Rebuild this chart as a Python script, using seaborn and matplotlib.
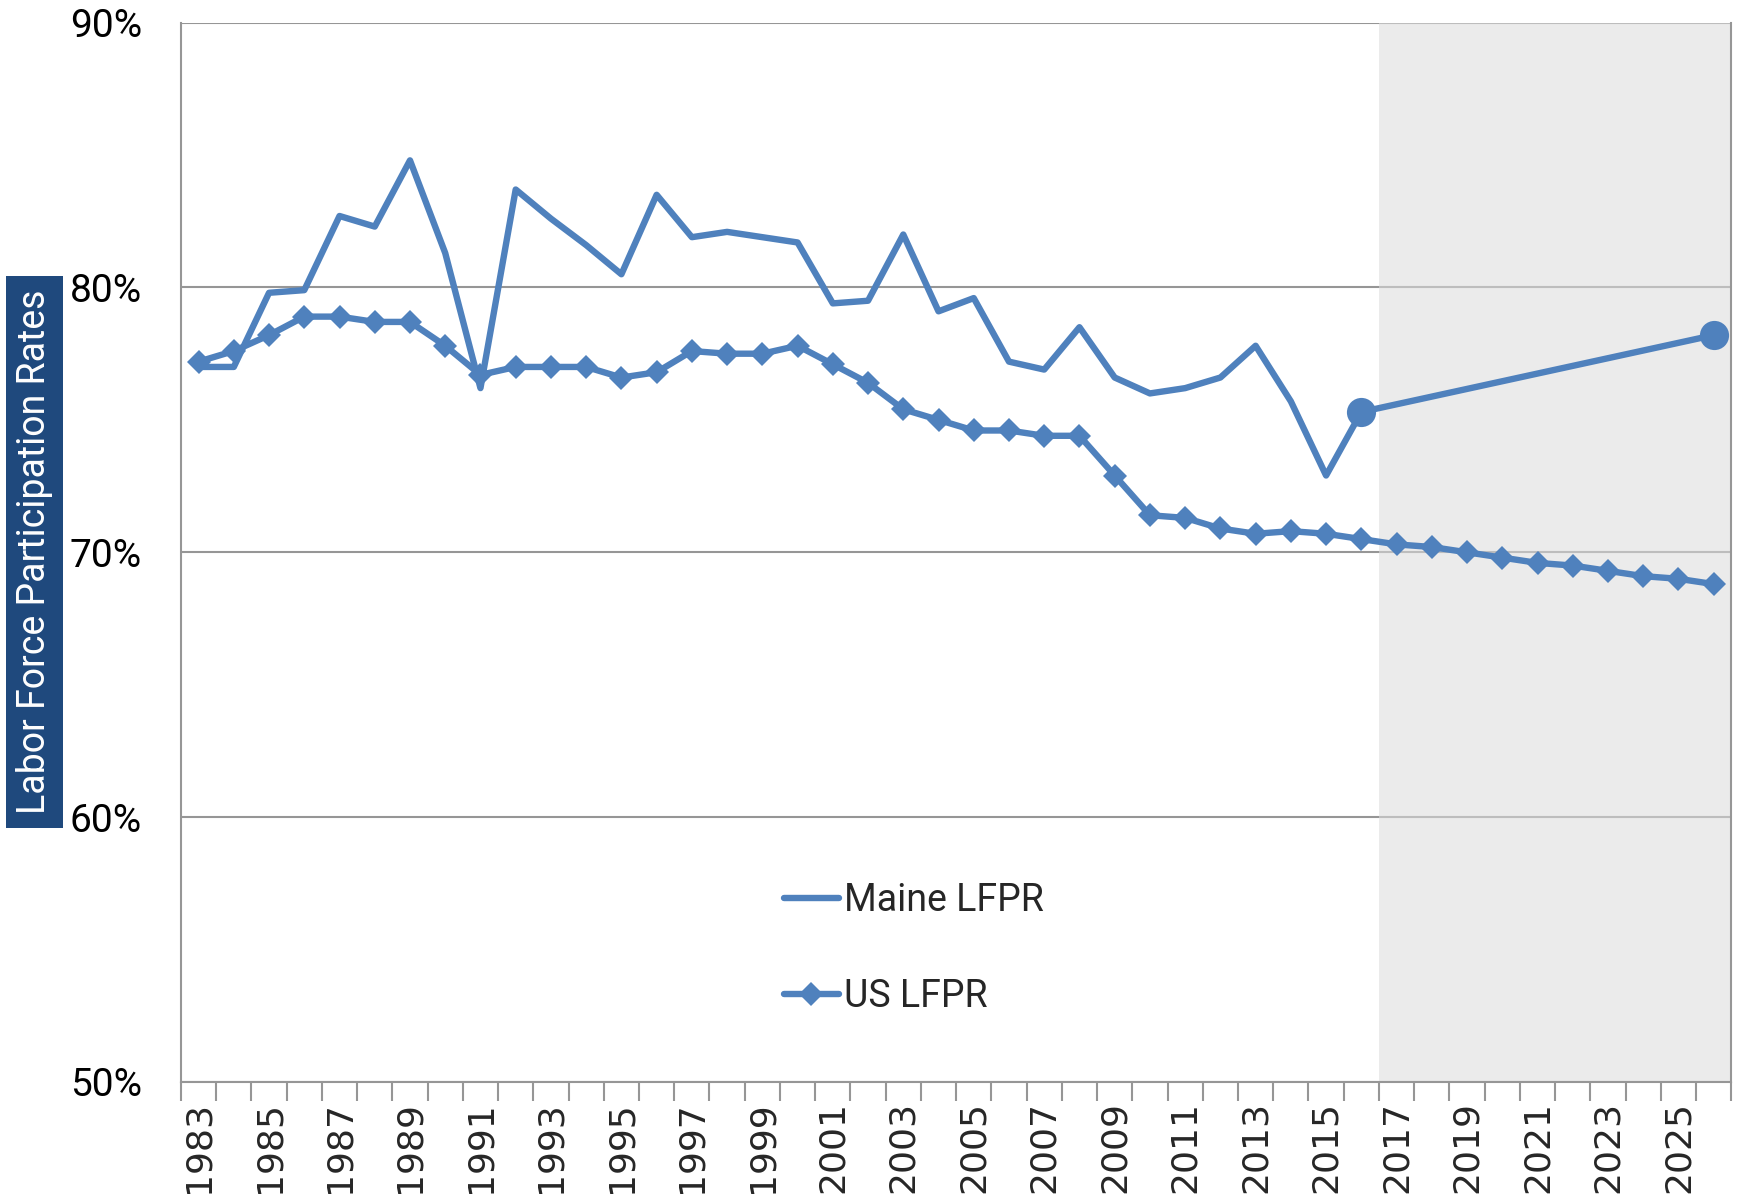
import numpy as np
import pandas as pd
import matplotlib
matplotlib.use("Agg")
import matplotlib.pyplot as plt
import seaborn as sns
from matplotlib.patches import Rectangle
from matplotlib.ticker import PercentFormatter, FixedLocator

years = list(range(1983, 2027))

maine_years = list(range(1983, 2017))
maine_lfpr = [77.0, 77.0, 79.8, 79.9, 82.7, 82.3, 84.8, 81.3, 76.2, 83.7,
              82.6, 81.6, 80.5, 83.5, 81.9, 82.1, 81.9, 81.7, 79.4, 79.5,
              82.0, 79.1, 79.6, 77.2, 76.9, 78.5, 76.6, 76.0, 76.2, 76.6,
              77.8, 75.7, 72.9, 75.3]

proj_years = [2016, 2026]
proj_lfpr = [75.3, 78.2]

us_lfpr = [77.2, 77.6, 78.2, 78.9, 78.9, 78.7, 78.7, 77.8, 76.7, 77.0,
           77.0, 77.0, 76.6, 76.8, 77.6, 77.5, 77.5, 77.8, 77.1, 76.4,
           75.4, 75.0, 74.6, 74.6, 74.4, 74.4, 72.9, 71.4, 71.3, 70.9,
           70.7, 70.8, 70.7, 70.5, 70.3, 70.2, 70.0, 69.8, 69.6, 69.5,
           69.3, 69.1, 69.0, 68.8]

forecast_start = 2016.5

blue = "#4F81BD"
grid_gray = "#969696"

sns.set_style("white")
plt.rcParams['font.family'] = ['Roboto', 'DejaVu Sans']

fig = plt.figure(figsize=(17.4, 11.99), dpi=100)
ax = fig.add_axes([0.104, 0.0976, 0.891, 0.8835])

ax.axvspan(forecast_start, years[-1] + 0.5, color="#DCDCDC", alpha=0.57, lw=0, zorder=2)

sns.lineplot(x=maine_years, y=maine_lfpr, ax=ax, color=blue, linewidth=4.6,
             label="Maine LFPR", zorder=4)
sns.lineplot(x=proj_years, y=proj_lfpr, ax=ax, color=blue, linewidth=4.6,
             marker="o", markersize=21, markeredgewidth=0, zorder=4)
sns.lineplot(x=years, y=us_lfpr, ax=ax, color=blue, linewidth=4.6,
             marker="D", markersize=12, markeredgewidth=0,
             label="US LFPR", zorder=4)

ax.set_xlim(years[0] - 0.5, years[-1] + 0.5)
ax.set_ylim(50, 90)
ax.set_yticks([50, 60, 70, 80, 90])
ax.yaxis.set_major_formatter(PercentFormatter(decimals=0))
ax.tick_params(axis="y", length=0, labelsize=28, pad=28, labelcolor="black")

ax.set_xticks(years[::2])
ax.set_xticklabels([str(y) for y in years[::2]], rotation=90)
ax.xaxis.set_minor_locator(FixedLocator(np.arange(years[0] - 0.5, years[-1] + 1, 1)))
ax.tick_params(axis="x", which="major", length=0, labelsize=26, pad=14)
ax.tick_params(axis="x", which="minor", length=14, width=1.5, color=grid_gray,
               direction="out", bottom=True)
for lbl in ax.get_xticklabels():
    lbl.set_family(["DejaVu Sans"])

ax.grid(axis="y", color=grid_gray, linewidth=1.5, zorder=1)
ax.grid(axis="x", visible=False)
for side in ["left", "bottom", "right"]:
    ax.spines[side].set_color(grid_gray)
    ax.spines[side].set_linewidth(1.5)
ax.spines["top"].set_visible(False)

ax.set_xlabel("")
ax.set_ylabel("")

# y-axis title: white text on a navy box
fig.patches.append(Rectangle((0.0032, 0.3094), 0.033, 0.4604, transform=fig.transFigure,
                             facecolor="#1F497D", edgecolor="none"))
fig.text(0.0196, 0.5396, "Labor Force Participation Rates", rotation=90,
         ha="center", va="center", color="white", fontsize=27)

ax.legend(loc="center left", bbox_to_anchor=(0.377, 0.126), frameon=False,
          fontsize=27, labelspacing=1.58, handlelength=1.45, handletextpad=0.15,
          borderpad=0)

fig.savefig("out.png", dpi=100)
